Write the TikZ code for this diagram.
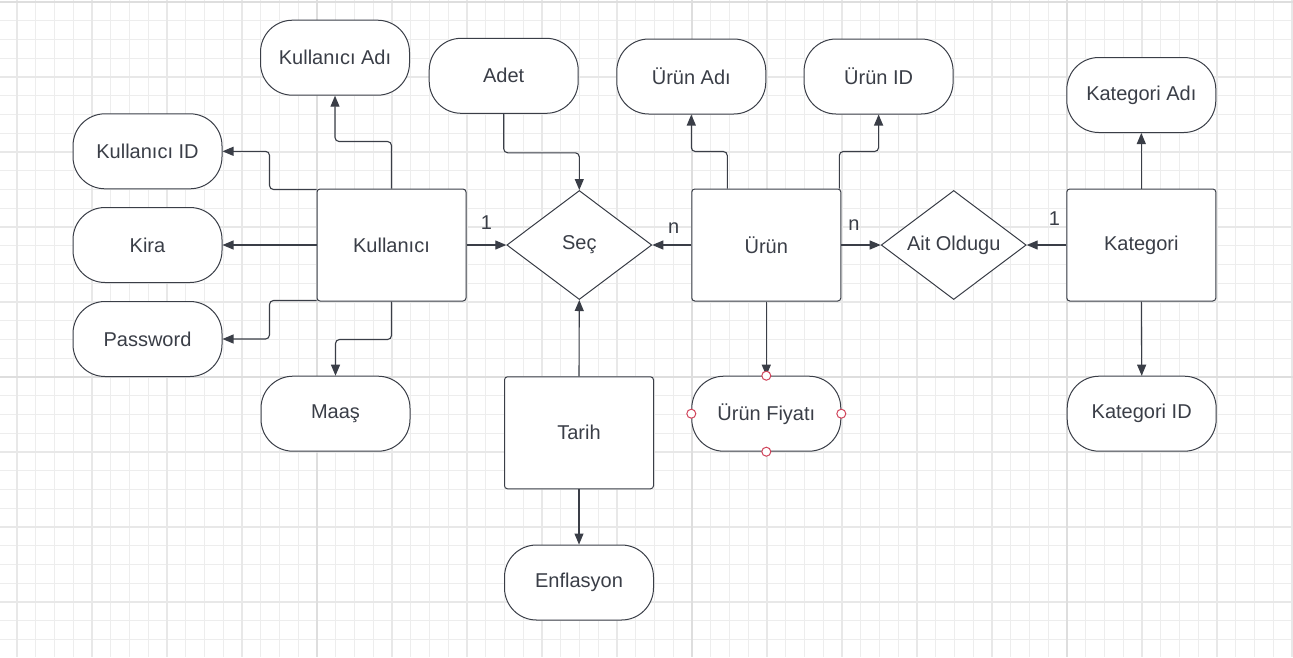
\documentclass[tikz,border=0pt]{standalone}
\usepackage{fontspec}
\setmainfont{Liberation Sans}
\usetikzlibrary{shapes.geometric,arrows.meta,calc}
\definecolor{linec}{HTML}{3A3E47}
\definecolor{txtc}{HTML}{3A3E47}
\definecolor{handlec}{HTML}{D0435A}
\tikzset{
  ent/.style={draw=linec, line width=1pt, fill=white, rounded corners=3pt, minimum width=149pt, minimum height=112pt, inner sep=0pt, text=txtc, font=\fontsize{20}{24}\selectfont},
  attr/.style={draw=linec, line width=1pt, fill=white, rounded corners=32pt, minimum width=149pt, minimum height=75pt, inner sep=0pt, text=txtc, font=\fontsize{20}{24}\selectfont},
  rel/.style={draw=linec, line width=1pt, fill=white, diamond, shape aspect=1.33, minimum width=145pt, minimum height=109pt, inner sep=0pt, text=txtc, font=\fontsize{20}{24}\selectfont},
  conn/.style={draw=linec, line width=1.1pt, rounded corners=4pt, -{Triangle[length=11pt,width=9pt]}},
  lbl/.style={text=txtc, font=\fontsize{20}{24}\selectfont, inner sep=0pt},
  handle/.style={circle, draw=handlec, fill=white, line width=1pt, minimum size=9pt, inner sep=0pt},
  minorg/.style={draw=black!7, line width=0.8pt},
  medg/.style={draw=black!9, line width=1.1pt},
  majg/.style={draw=black!13, line width=1.5pt}
}
\begin{document}
\begin{tikzpicture}[x=1pt,y=-1pt]
\useasboundingbox (0,0) rectangle (1293,657);
\fill[white] (0,0) rectangle (1293,657);
% grid
\foreach \i in {0,...,68} \draw[minorg] ({17+18.75*\i},0) -- ({17+18.75*\i},657);
\foreach \j in {0,...,35} \draw[minorg] (0,{2+18.75*\j}) -- (1293,{2+18.75*\j});
\foreach \i in {0,...,17} \draw[medg] ({17+75*\i},0) -- ({17+75*\i},657);
\foreach \j in {0,...,8} \draw[medg] (0,{2+75*\j}) -- (1293,{2+75*\j});
\foreach \i in {0,...,2} \draw[majg] ({317+375*\i},0) -- ({317+375*\i},657);
\foreach \j in {0,1} \draw[majg] (0,{2+375*\j}) -- (1293,{2+375*\j});

% entities
\node[ent] (kul) at (391.5,245) {Kullanıcı};
\node[ent] (urun) at (766.3,245) {Ürün};
\node[ent] (kat) at (1141.3,245) {Kategori};
\node[ent] (tarih) at (579,432.8) {Tarih};

% relationships
\node[rel] (sec) at (579.3,245) {Seç};
\node[rel] (ait) at (953.7,245) {Ait Oldugu};

% attributes
\node[attr] (kadi) at (335,57.7) {Kullanıcı Adı};
\node[attr] (kid) at (147.5,151.3) {Kullanıcı ID};
\node[attr] (kira) at (147.5,245) {Kira};
\node[attr] (pw) at (147.5,339) {Password};
\node[attr] (maas) at (335.5,413.7) {Maaş};
\node[attr] (adet) at (503.7,75.8) {Adet};
\node[attr] (uadi) at (691.3,76.5) {Ürün Adı};
\node[attr] (uid) at (878.6,76.5) {Ürün ID};
\node[attr] (fiyat) at (766.3,413.7) {Ürün Fiyatı};
\node[attr] (kadi2) at (1141.3,95) {Kategori Adı};
\node[attr] (kid2) at (1141.7,413.7) {Kategori ID};
\node[attr] (enf) at (579,582.5) {Enflasyon};

% connectors
\draw[conn] ([yshift=-1pt]kul.north west) -- ++(-47,0) |- (kid.east);
\draw[conn] (kul.north) -- ++(0,-47) -| (kadi.south);
\draw[conn] (kul.west) -- (kira.east);
\draw[conn] ([yshift=1pt]kul.south west) -- ++(-47,0) |- (pw.east);
\draw[conn] (kul.south) -- ++(0,38) -| (maas.north);
\draw[conn] (kul.east) -- node[lbl, midway, yshift=22pt] {1} (sec.west);
\draw[conn] (urun.west) -- node[lbl, midway, yshift=17pt, xshift=2pt] {n} (sec.east);
\draw[conn] (urun.east) -- node[lbl, midway, yshift=20pt, xshift=-7pt] {n} (ait.west);
\draw[conn] (kat.west) -- node[lbl, midway, yshift=26pt, xshift=8pt] {1} (ait.east);
\draw[conn] (kat.north) -- (kadi2.south);
\draw[conn] (kat.south) -- (kid2.north);
\draw[conn] ([xshift=-39pt]urun.north) -- ++(0,-37) -| (uadi.south);
\draw[conn] ([xshift=73pt]urun.north) -- ++(0,-37) -| (uid.south);
\draw[conn] (urun.south) -- (fiyat.north);
\draw[conn] (adet.south) -- ++(0,39) -| (sec.north);
\draw[conn] (tarih.north) -- (sec.south);
\draw[conn] (tarih.south) -- (enf.north);

% selection handles
\node[handle] (h1) at (fiyat.north) {};
\node[handle] (h2) at (fiyat.south) {};
\node[handle] (h3) at (fiyat.west) {};
\node[handle] (h4) at (fiyat.east) {};
\end{tikzpicture}
\end{document}
